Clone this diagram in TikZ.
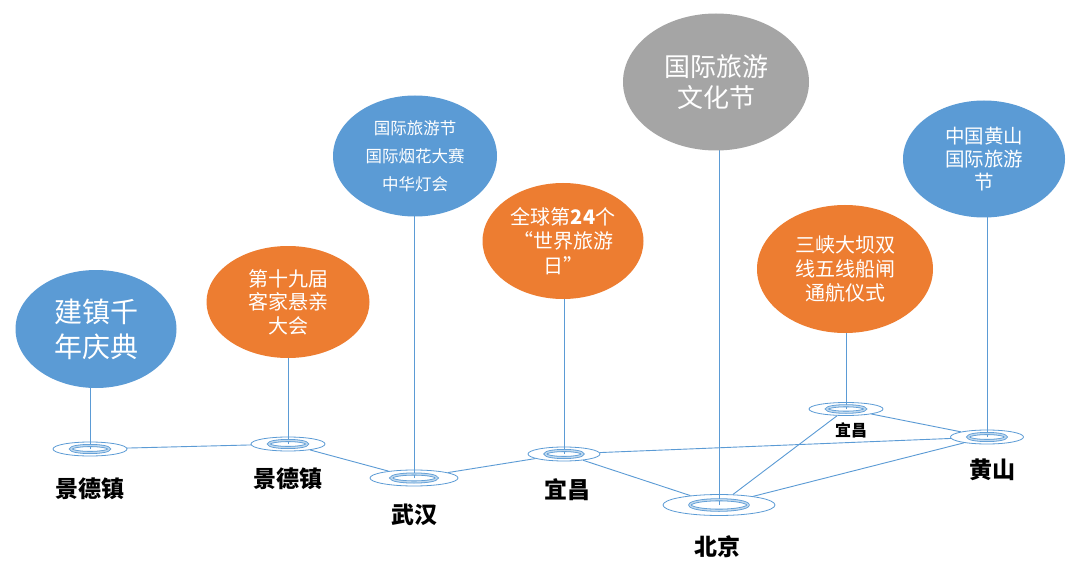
\documentclass[tikz,border=0pt]{standalone}
\usepackage{fontspec}
\setmainfont{Noto Sans CJK SC}
\usetikzlibrary{shapes.geometric, backgrounds}

\definecolor{evblue}{HTML}{5B9BD5}
\definecolor{evorange}{HTML}{ED7D31}
\definecolor{evgray}{HTML}{A5A5A5}
\definecolor{linkblue}{HTML}{5B9BD5}

\begin{document}
\begin{tikzpicture}[
  x=1pt, y=-1pt,
  bubble/.style = {ellipse, inner sep=0pt, align=center, text=white},
  spot/.style = {ellipse, draw=linkblue, line width=0.8pt, inner sep=0pt},
  core/.style = {ellipse, draw=linkblue, double=linkblue!40, line width=0.8pt, double distance=1.4pt, inner sep=0pt},
  link/.style = {draw=linkblue, line width=0.9pt},
  town/.style = {font=\bfseries\fontsize{23}{23}\selectfont, inner sep=0pt}
]
\useasboundingbox (0,0) rectangle (1080,575);

% Event bubbles
\node[bubble, fill=evblue, minimum width=161pt, minimum height=118pt, font=\fontsize{28}{35}\selectfont] (b1) at (96,329) {建镇千\\年庆典};
\node[bubble, fill=evorange, minimum width=163pt, minimum height=112pt, font=\fontsize{20}{23.5}\selectfont] (b2) at (288,302) {第十九届\\客家悬亲\\大会};
\node[bubble, fill=evblue, minimum width=164pt, minimum height=121pt, font=\fontsize{16.5}{28}\selectfont] (b3) at (415,156) {国际旅游节\\国际烟花大赛\\中华灯会};
\node[bubble, fill=evorange, minimum width=161pt, minimum height=116pt, font=\fontsize{20}{24.5}\selectfont] (b4) at (563,241) {全球第\textbf{24}个\\“世界旅游\\日”};
\node[bubble, fill=evgray, minimum width=186pt, minimum height=137pt, font=\fontsize{26}{31}\selectfont] (b5) at (716,82) {国际旅游\\文化节};
\node[bubble, fill=evorange, minimum width=176pt, minimum height=128pt, font=\fontsize{20}{24}\selectfont] (b6) at (845,269) {三峡大坝双\\线五线船闸\\通航仪式};
\node[bubble, fill=evblue, minimum width=162pt, minimum height=117pt, font=\fontsize{19.5}{23}\selectfont] (b7) at (984,159) {中国黄山\\国际旅游\\节};

% Ring markers
\foreach \n/\x/\y/\w/\h in {m1/90/449/74/14, m2/288/444/74/14, m3/414/478/88/16, m4/564/454/72/14, m5/719/505/112/21, m6/846/409/74/13, m7/987/437/73/14}{
  \node[spot, minimum width=\w pt, minimum height=\h pt] (\n) at (\x,\y) {};
  \node[core, minimum width=0.52*\w pt, minimum height=0.5*\h pt] (\n i) at (\n) {};
}

% Town labels
\node[town] (t1) at (90,489) {景德镇};
\node[town] (t2) at (288,479) {景德镇};
\node[town] (t3) at (414,515) {武汉};
\node[town] (t4) at (567,490) {宜昌};
\node[town] (t5) at (717,547) {北京};
\node[town, font=\bfseries\fontsize{16}{16}\selectfont] (t6) at (851,430) {宜昌};
\node[town] (t7) at (992,470) {黄山};

\begin{scope}[on background layer]
\fill[white] (0,0) rectangle (1080,575);
% Route
\draw[link] (m1) -- (m2);
\draw[link] (m2) -- (m3);
\draw[link] (m3) -- (m4);
\draw[link] (m4) -- (m5);
\draw[link] (m4) -- (m7);
\draw[link] (m5) -- (m6);
\draw[link] (m5) -- (m7);
\draw[link] (m6) -- (m7);
% Stems
\foreach \i in {1,...,7}
  \draw[link] (m\i.center) -- (m\i |- b\i.center);
\end{scope}
\end{tikzpicture}
\end{document}
